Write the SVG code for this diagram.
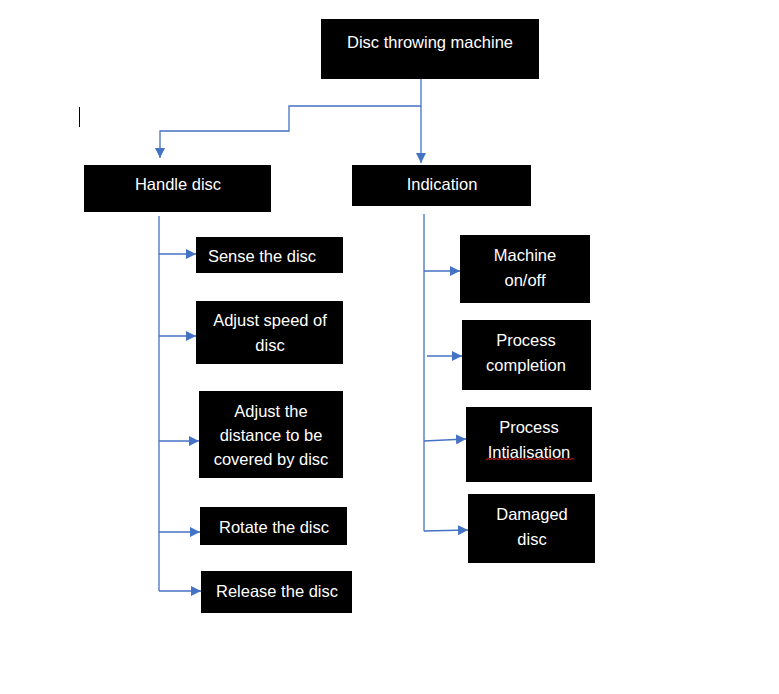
<svg xmlns="http://www.w3.org/2000/svg" width="779" height="694" viewBox="0 0 779 694">
  <style>
    .box { fill: #000000; }
    .lbl { fill: #ffffff; font-family: "Liberation Sans", Arial, sans-serif; font-size: 16.5px; text-anchor: middle; dominant-baseline: central; }
    .wire { fill: none; stroke: #4472C4; stroke-width: 1.3; }
    .arr { marker-end: url(#head); }
  </style>
  <defs>
    <marker id="head" viewBox="0 0 10 10" refX="10" refY="5" markerUnits="userSpaceOnUse" markerWidth="10" markerHeight="10" orient="auto">
      <path d="M0,0 L10,5 L0,10 Z" fill="#4472C4"/>
    </marker>
  </defs>
  <rect width="779" height="694" fill="#ffffff"/>

  <!-- text cursor mark -->
  <line x1="79.5" y1="107" x2="79.5" y2="127" stroke="#000000" stroke-width="1"/>

  <g id="connectors">
    <path class="wire arr" d="M421,79 V163"/>
    <path class="wire arr" d="M421,106 H289 V131 H160 V158"/>
    <path class="wire" d="M159,216 V591"/>
    <path class="wire arr" d="M159,254 H196"/>
    <path class="wire arr" d="M159,336 H196"/>
    <path class="wire arr" d="M159,441 H199"/>
    <path class="wire arr" d="M159,532 H200"/>
    <path class="wire arr" d="M159,591 H201"/>
    <path class="wire" d="M424,214 V531"/>
    <path class="wire arr" d="M424,271 H460"/>
    <path class="wire arr" d="M427,356 H462"/>
    <path class="wire arr" d="M424,441 L466,439"/>
    <path class="wire arr" d="M424,531 L468,530"/>
  </g>

  <g id="disc-throwing-machine">
    <rect class="box" x="321" y="19" width="218" height="60"/>
    <text class="lbl" x="430" y="42">Disc throwing machine</text>
  </g>
  <g id="handle-disc">
    <rect class="box" x="84" y="165" width="187" height="47"/>
    <text class="lbl" x="178" y="184">Handle disc</text>
  </g>
  <g id="indication">
    <rect class="box" x="352" y="165" width="179" height="41"/>
    <text class="lbl" x="442" y="184">Indication</text>
  </g>

  <g id="sense-the-disc">
    <rect class="box" x="196" y="237" width="147" height="36"/>
    <text class="lbl" x="262" y="256">Sense the disc</text>
  </g>
  <g id="adjust-speed">
    <rect class="box" x="196" y="301" width="147" height="63"/>
    <text class="lbl" x="270" y="320">Adjust speed of</text>
    <text class="lbl" x="270" y="345">disc</text>
  </g>
  <g id="adjust-distance">
    <rect class="box" x="199" y="391" width="144" height="87"/>
    <text class="lbl" x="271" y="411">Adjust the</text>
    <text class="lbl" x="271" y="435">distance to be</text>
    <text class="lbl" x="271" y="459">covered by disc</text>
  </g>
  <g id="rotate-the-disc">
    <rect class="box" x="200" y="507" width="147" height="38"/>
    <text class="lbl" x="274" y="527">Rotate the disc</text>
  </g>
  <g id="release-the-disc">
    <rect class="box" x="201" y="571" width="151" height="42"/>
    <text class="lbl" x="277" y="591">Release the disc</text>
  </g>

  <g id="machine-on-off">
    <rect class="box" x="460" y="235" width="130" height="68"/>
    <text class="lbl" x="525" y="255">Machine</text>
    <text class="lbl" x="525" y="280">on/off</text>
  </g>
  <g id="process-completion">
    <rect class="box" x="462" y="320" width="129" height="70"/>
    <text class="lbl" x="526" y="340">Process</text>
    <text class="lbl" x="526" y="365">completion</text>
  </g>
  <g id="process-initialisation">
    <rect class="box" x="466" y="407" width="126" height="75"/>
    <text class="lbl" x="529" y="427">Process</text>
    <text class="lbl" x="529" y="452">Intialisation</text>
    <!-- spell-check squiggle -->
    <path d="M486,460 l2,-2 l2,2 l2,-2 l2,2 l2,-2 l2,2 l2,-2 l2,2 l2,-2 l2,2 l2,-2 l2,2 l2,-2 l2,2 l2,-2 l2,2 l2,-2 l2,2 l2,-2 l2,2 l2,-2 l2,2 l2,-2 l2,2 l2,-2 l2,2 l2,-2 l2,2 l2,-2 l2,2 l2,-2 l2,2 l2,-2 l2,2 l2,-2 l2,2 l2,-2 l2,2 l2,-2 l2,2 l2,-2 l2,2 l2,-2 l2,2" fill="none" stroke="#e00000" stroke-width="1"/>
  </g>
  <g id="damaged-disc">
    <rect class="box" x="468" y="494" width="127" height="69"/>
    <text class="lbl" x="532" y="514">Damaged</text>
    <text class="lbl" x="532" y="539">disc</text>
  </g>
</svg>
